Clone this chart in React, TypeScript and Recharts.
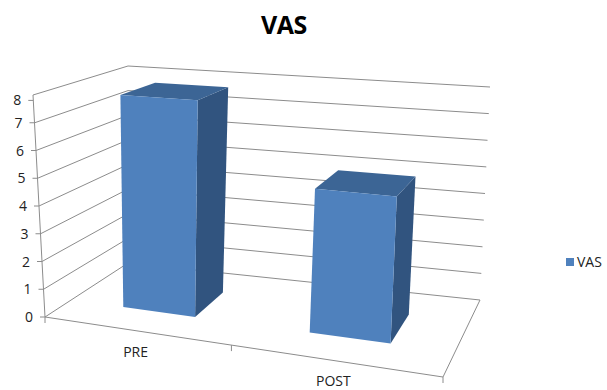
import { Bar, BarChart, Customized, XAxis, YAxis } from "recharts"

const categories = ["PRE", "POST"]
const vasValues = [7.8, 5.0]
const yTicks = [0, 1, 2, 3, 4, 5, 6, 7, 8]
const seriesName = "VAS"

const data = categories.map((name, i) => ({ name, VAS: vasValues[i] }))

const W = 607
const H = 390
const M = { top: 0, right: 0, bottom: 0, left: 0 }
const Y_W = 20
const X_H = 20
const PLOT_LEFT = M.left + Y_W
const PLOT_W = W - PLOT_LEFT - M.right
const PLOT_TOP = M.top
const PLOT_H = H - M.top - M.bottom - X_H
const Y_MAX = 8

const FRONT = "#4F81BD"
const TOP = "#3C6595"
const SIDE = "#31547F"
const GRID = "#8C8C8C"
const FONT = "'Open Sans', sans-serif"

// bar depth inside the box (front..back)
const D0 = 0.3
const D1 = 0.7

type Pt = [number, number]

// unit square -> quad (FL, FR, BR, BL), half perspective / half bilinear
function squareToQuad(q: Pt[]) {
  const [[x0, y0], [x1, y1], [x2, y2], [x3, y3]] = q
  const dx1 = x1 - x2, dx2 = x3 - x2, dx3 = x0 - x1 + x2 - x3
  const dy1 = y1 - y2, dy2 = y3 - y2, dy3 = y0 - y1 + y2 - y3
  const den = dx1 * dy2 - dx2 * dy1
  const g = (dx3 * dy2 - dx2 * dy3) / den
  const h = (dx1 * dy3 - dx3 * dy1) / den
  const a = x1 - x0 + g * x1, b = x3 - x0 + h * x3, c = x0
  const d = y1 - y0 + g * y1, e = y3 - y0 + h * y3, f = y0
  return (u: number, w: number): Pt => {
    const z = g * u + h * w + 1
    const hx = (a * u + b * w + c) / z
    const hy = (d * u + e * w + f) / z
    const k0 = (1 - u) * (1 - w), k1 = u * (1 - w), k2 = u * w, k3 = (1 - u) * w
    const bx = k0 * x0 + k1 * x1 + k2 * x2 + k3 * x3
    const by = k0 * y0 + k1 * y1 + k2 * y2 + k3 * y3
    return [(hx + bx) / 2, (hy + by) / 2]
  }
}

const floor = squareToQuad([[45, 317], [443, 377], [480, 300], [128, 263]])
const roof = squareToQuad([[33, 95], [452, 124], [490, 87], [128, 66]])

// u: along categories, w: depth, t: value fraction
const P = (u: number, w: number, t: number): Pt => {
  const a = floor(u, w)
  const b = roof(u, w)
  return [a[0] + (b[0] - a[0]) * t, a[1] + (b[1] - a[1]) * t]
}

const pts = (list: Pt[]) => list.map((p) => `${p[0].toFixed(1)},${p[1].toFixed(1)}`).join(" ")

const Box = (props: any) => {
  const { x, width, height } = props
  const u0 = (x - PLOT_LEFT) / PLOT_W
  const u1 = (x + width - PLOT_LEFT) / PLOT_W
  const t = height / PLOT_H
  const side = [P(u1, D0, 0), P(u1, D1, 0), P(u1, D1, t), P(u1, D0, t)]
  const top = [P(u0, D0, t), P(u1, D0, t), P(u1, D1, t), P(u0, D1, t)]
  const front = [P(u0, D0, 0), P(u1, D0, 0), P(u1, D0, t), P(u0, D0, t)]
  return (
    <g>
      <polygon points={pts(side)} fill={SIDE} />
      <polygon points={pts(top)} fill={TOP} />
      <polygon points={pts(front)} fill={FRONT} />
    </g>
  )
}

const YTick = (props: any) => {
  const { y, payload } = props
  const t = (PLOT_TOP + PLOT_H - y) / PLOT_H
  const p = P(0, 0, t)
  return (
    <g>
      <line x1={p[0] - 5} y1={p[1]} x2={p[0]} y2={p[1]} stroke={GRID} />
      <text x={p[0] - 12} y={p[1] + 5} textAnchor="end" fontSize={14} fontFamily={FONT} fill="#222">
        {payload.value}
      </text>
    </g>
  )
}

const XTick = (props: any) => {
  const { x, payload } = props
  const u = (x - PLOT_LEFT) / PLOT_W
  const p = P(u, 0, 0)
  return (
    <text x={p[0]} y={p[1] + 26} textAnchor="middle" fontSize={14} fontFamily={FONT} fill="#222">
      {payload.value}
    </text>
  )
}

const Walls = () => {
  const lines = yTicks.map((v) => {
    const t = v / Y_MAX
    return <polyline key={v} points={pts([P(0, 0, t), P(0, 1, t), P(1, 1, t)])} fill="none" stroke={GRID} />
  })
  const catTicks = [0, 0.5, 1].map((u) => {
    const p = P(u, 0, 0)
    return <line key={u} x1={p[0]} y1={p[1]} x2={p[0]} y2={p[1] + 6} stroke={GRID} />
  })
  return (
    <g>
      {lines}
      <polyline points={pts([P(0, 0, 0), P(1, 0, 0), P(1, 1, 0)])} fill="none" stroke={GRID} />
      <line x1={P(0, 0, 0)[0]} y1={P(0, 0, 0)[1]} x2={P(0, 0, 1)[0]} y2={P(0, 0, 1)[1]} stroke={GRID} />
      {catTicks}
      <text x={284} y={34} textAnchor="middle" fontSize={25} fontWeight="bold" fontFamily={FONT} fill="#000" letterSpacing={-0.5}>
        {seriesName}
      </text>
      <rect x={566} y={258} width={8} height={8} fill={FRONT} />
      <text x={577} y={267} fontSize={14} fontFamily={FONT} fill="#222">
        {seriesName}
      </text>
    </g>
  )
}

export default function App() {
  return (
    <div style={{ position: "absolute", left: 0, top: 0, background: "#fff" }}>
      <BarChart width={W} height={H} data={data} margin={M} barCategoryGap="30%">
        <XAxis dataKey="name" height={X_H} axisLine={false} tickLine={false} tick={<XTick />} interval={0} />
        <YAxis width={Y_W} domain={[0, Y_MAX]} ticks={yTicks} axisLine={false} tickLine={false} tick={<YTick />} />
        <Customized component={Walls} />
        <Bar dataKey="VAS" name={seriesName} shape={<Box />} isAnimationActive={false} />
      </BarChart>
    </div>
  )
}
